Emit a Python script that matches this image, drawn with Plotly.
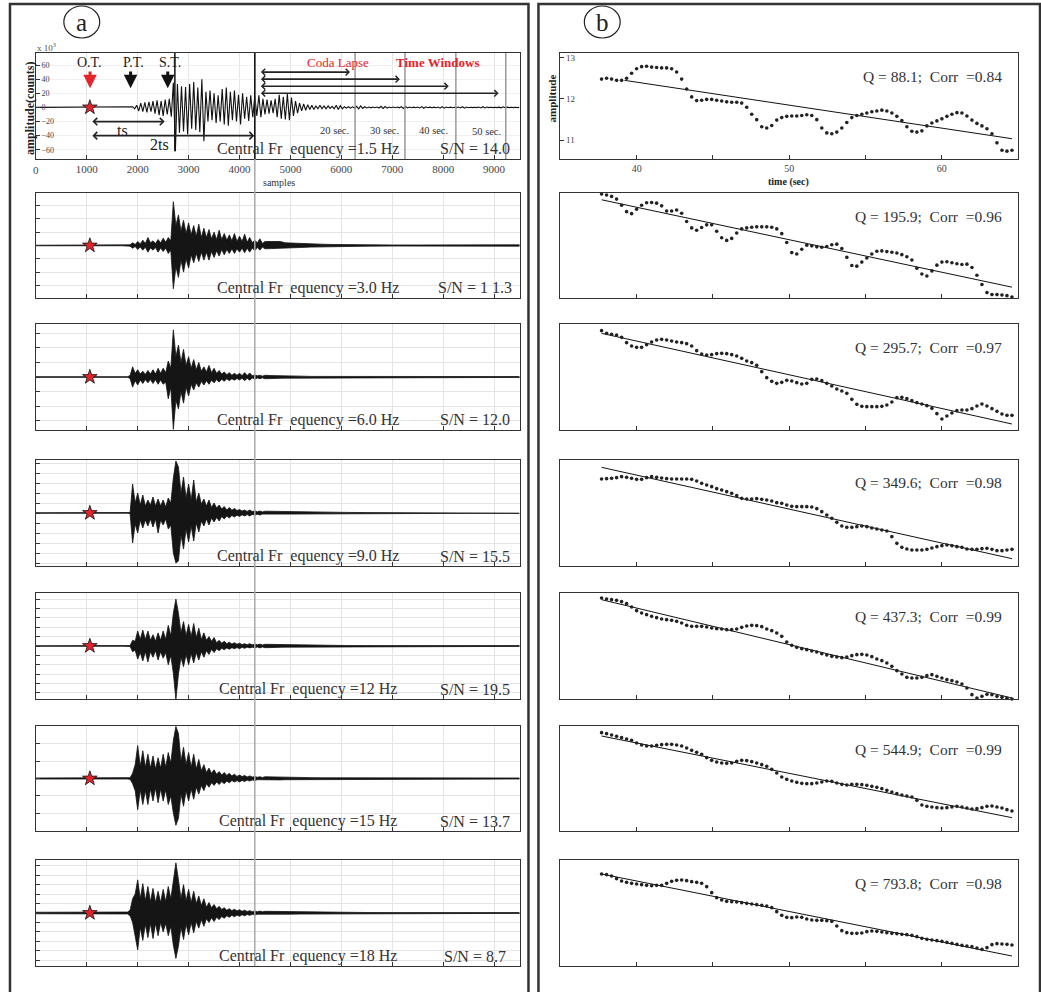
import numpy as np
import plotly.graph_objects as go

W, H = 1041, 992
SERIF = "Liberation Serif"

# ---------------- panel (a): band-passed seismograms ----------------
FREQ_LABELS = ["1.5", "3.0", "6.0", "9.0", "12", "15", "18"]
SN_LABELS = ["14.0", "1 1.3", "12.0", "15.5", "19.5", "13.7", "8.7"]

# 1.5 Hz trace: successive extrema (x10^3 counts), one every 40 samples from sample 1900
TRACE15_START = 1900
TRACE15_STEP = 40
TRACE15 = [
    1, -2, 3, -5, 6, -6, 7, -7, 8, -6, 9, -9, 10, -11, 9, -12, 11, -10, 12, -13,
    35, -62, 33, -36, 30, -34, 29, -38, 33, -30, 36, -32, 28, -35, 40, -48,
    22, -20, 24, -18, 20, -22, 17, -20, 26, -24, 28, -26, 22, -18, 24, -20, 18, -24,
    20, -16, 15, -19, 17, -14, 16, -12, 17, -14, 12, -10, 11, -9, 10, -8,
    12, -14, 18, -16, 15, -17, 19, -18, 14, -12, 9, -8, 6, -5, 5, -4, 4, -3, 3, -3,
    2, -2, 3, -2, 2, -2, 2, -1.5, 1.5, -2, 3, -3, 2.5, -2, 1, -1, 1, -1, 0.8, -0.8,
    1.5, -2, 2, -1.5, 1, -0.8, 0.6, -0.6, 0.5, -0.5, 0.6, -0.8, 1.5, -1.5, 1.2, -1,
    0.6, -0.5, 0.5, -0.5, 0.5, -0.6, 1.2, -1.5, 1.2, -0.8, 0.5, -0.4, 0.4, -0.4,
    0.5, -0.8, 1.2, -1.2, 0.8, -0.5, 0.4, -0.4, 0.4, -0.4, 0.6, -1, 1.2, -1, 0.6, -0.4,
    0.4, -0.4, 0.3, -0.3, 0.5, -0.8, 1, -1, 0.6, -0.4, 0.3, -0.3, 0.3, -0.3,
    0.5, -0.8, 1, -0.8, 0.5, -0.3, 0.3, -0.3, 0.3, -0.3, 0.4, -0.6, 0.8, -0.6, 0.4,
    -0.3, 0.3, -0.3, 0.3, -0.3, 0.3,
]

# envelope sample grid (higher bands): pre-event, dense 1900-4500, coda tail
ENV_SAMPLES = ([0, 1700, 1800, 1850] + list(range(1900, 4501, 50)) +
               [4600, 4700, 4800, 4900, 5000, 5200, 5400, 5600, 5800, 6100, 6500,
                7000, 7500, 8000, 8500, 9000, 9500])

# upper / lower envelope magnitudes (grid units): pre | P coda | S and coda | tail
ENV_UP = {
    "3.0": [0.02, 0.02, 0.03, 0.05]
    + [0.2, 0.08, 0.3, 0.12, 0.4, 0.15, 0.6, 0.2, 0.35, 0.15, 0.45, 0.2, 0.55, 0.25, 0.6, 0.35]
    + [3.3, 1.5, 2.3, 1.1, 1.9, 0.9, 1.7, 0.8, 1.5, 0.7, 1.6, 0.6, 1.3, 0.6, 1.2, 0.5, 1.0,
       0.45, 1.15, 0.45, 0.9, 0.4, 0.8, 0.35, 0.9, 0.3, 0.7, 0.3, 0.85, 0.25, 0.6, 0.22, 0.4,
       0.2, 0.5, 0.15, 0.3]
    + [0.3, 0.25, 0.3, 0.2, 0.18, 0.15, 0.12, 0.1, 0.08, 0.06, 0.05, 0.04, 0.04, 0.03, 0.03,
       0.04, 0.05],
    "6.0": [0.02, 0.02, 0.02, 0.1]
    + [0.7, 0.25, 0.5, 0.2, 0.4, 0.18, 0.45, 0.2, 0.5, 0.2, 0.6, 0.25, 0.6, 0.3, 1.1, 0.6]
    + [3.25, 1.4, 2.2, 1.0, 1.9, 0.8, 1.4, 0.6, 1.2, 0.5, 1.0, 0.4, 0.7, 0.35, 0.8, 0.3, 0.6,
       0.25, 0.45, 0.2, 0.35, 0.15, 0.3, 0.12, 0.25, 0.12, 0.25, 0.1, 0.3, 0.1, 0.28, 0.08,
       0.15, 0.08, 0.12, 0.06, 0.12]
    + [0.1, 0.1, 0.09, 0.08, 0.07, 0.06, 0.04, 0.04, 0.03, 0.03, 0.03, 0.03, 0.03, 0.03, 0.03,
       0.03, 0.03],
    "9.0": [0.02, 0.02, 0.02, 0.05]
    + [2.9, 1.0, 2.0, 0.8, 1.8, 0.7, 1.3, 0.8, 1.6, 0.7, 1.4, 0.7, 1.3, 0.6, 1.5, 1.0]
    + [3.5, 5.2, 4.6, 2.0, 3.6, 1.5, 2.9, 1.3, 3.3, 1.1, 2.0, 0.9, 1.4, 0.7, 1.3, 0.55, 1.0,
       0.5, 0.8, 0.4, 0.65, 0.3, 0.55, 0.28, 0.45, 0.25, 0.35, 0.2, 0.3, 0.16, 0.3, 0.14,
       0.22, 0.12, 0.2, 0.11, 0.18]
    + [0.17, 0.15, 0.14, 0.12, 0.11, 0.1, 0.1, 0.09, 0.08, 0.06, 0.04, 0.03, 0.03, 0.03,
       0.03, 0.03, 0.03],
    "12": [0.02, 0.02, 0.02, 0.05]
    + [0.6, 0.5, 1.6, 0.7, 1.7, 0.7, 1.6, 0.6, 1.2, 0.5, 1.4, 0.6, 1.6, 0.7, 2.2, 1.1]
    + [3.5, 5.0, 3.5, 1.4, 2.6, 1.1, 2.3, 1.0, 2.4, 0.9, 1.9, 0.7, 1.4, 0.6, 1.0, 0.5, 0.9,
       0.35, 0.6, 0.3, 0.5, 0.25, 0.4, 0.2, 0.35, 0.18, 0.3, 0.15, 0.25, 0.13, 0.25, 0.12,
       0.2, 0.12, 0.2, 0.1, 0.18]
    + [0.17, 0.15, 0.14, 0.12, 0.11, 0.1, 0.09, 0.08, 0.06, 0.05, 0.04, 0.04, 0.04, 0.04,
       0.04, 0.04, 0.04],
    "15": [0.03, 0.03, 0.03, 0.05]
    + [0.3, 0.8, 1.9, 0.7, 1.6, 0.65, 1.4, 0.6, 1.3, 0.55, 1.2, 0.6, 1.4, 0.65, 1.5, 0.9]
    + [2.2, 3.0, 2.6, 1.0, 1.8, 0.8, 1.5, 0.65, 1.4, 0.55, 1.1, 0.45, 0.8, 0.35, 0.6, 0.3,
       0.5, 0.25, 0.4, 0.2, 0.35, 0.18, 0.3, 0.15, 0.25, 0.12, 0.2, 0.11, 0.18, 0.09, 0.15,
       0.08, 0.12, 0.07, 0.1, 0.06, 0.1]
    + [0.09, 0.08, 0.08, 0.07, 0.06, 0.06, 0.05, 0.04, 0.04, 0.03, 0.03, 0.03, 0.03, 0.03,
       0.03, 0.03, 0.03],
    "18": [0.08, 0.1, 0.1, 0.3]
    + [1.5, 2.0, 3.5, 1.5, 3.1, 1.3, 2.8, 1.2, 2.6, 1.1, 2.3, 1.1, 2.5, 1.2, 2.8, 1.5]
    + [3.5, 5.3, 3.5, 1.5, 3.0, 1.3, 2.5, 1.1, 2.3, 1.0, 1.8, 0.8, 1.5, 0.6, 1.1, 0.55, 0.9,
       0.45, 0.7, 0.38, 0.55, 0.3, 0.45, 0.25, 0.4, 0.22, 0.35, 0.18, 0.3, 0.16, 0.25, 0.14,
       0.22, 0.13, 0.2, 0.12, 0.18]
    + [0.17, 0.15, 0.14, 0.13, 0.12, 0.11, 0.1, 0.1, 0.08, 0.06, 0.05, 0.04, 0.04, 0.04,
       0.04, 0.04, 0.04],
}
ENV_DOWN = {
    "3.0": [0.02, 0.02, 0.03, 0.05]
    + [0.2, 0.08, 0.3, 0.12, 0.35, 0.12, 0.5, 0.18, 0.35, 0.15, 0.5, 0.18, 0.45, 0.2, 0.6, 0.35]
    + [3.25, 1.6, 2.4, 1.1, 2.0, 1.0, 1.7, 0.7, 1.3, 0.6, 1.2, 0.5, 1.1, 0.5, 1.1, 0.45, 0.9,
       0.4, 0.8, 0.3, 0.7, 0.3, 0.6, 0.25, 0.6, 0.25, 0.5, 0.2, 0.55, 0.2, 0.5, 0.18, 0.4,
       0.15, 0.35, 0.12, 0.25]
    + [0.25, 0.25, 0.25, 0.2, 0.18, 0.15, 0.12, 0.1, 0.08, 0.06, 0.05, 0.04, 0.04, 0.03,
       0.03, 0.04, 0.05],
    "6.0": [0.02, 0.02, 0.02, 0.1]
    + [0.7, 0.25, 0.55, 0.2, 0.45, 0.18, 0.4, 0.18, 0.45, 0.18, 0.5, 0.2, 0.5, 0.35, 1.5, 0.7]
    + [3.6, 1.6, 2.2, 1.0, 1.8, 0.7, 1.3, 0.5, 0.9, 0.4, 0.7, 0.3, 0.55, 0.25, 0.5, 0.22,
       0.4, 0.18, 0.35, 0.15, 0.3, 0.12, 0.25, 0.12, 0.22, 0.1, 0.2, 0.09, 0.25, 0.09, 0.22,
       0.07, 0.15, 0.07, 0.12, 0.06, 0.12]
    + [0.1, 0.1, 0.09, 0.08, 0.07, 0.06, 0.04, 0.04, 0.03, 0.03, 0.03, 0.03, 0.03, 0.03, 0.03,
       0.03, 0.03],
    "9.0": [0.02, 0.02, 0.02, 0.05]
    + [3.0, 1.1, 2.0, 0.7, 1.5, 0.7, 1.3, 0.6, 1.4, 0.6, 2.0, 0.7, 1.2, 0.6, 1.6, 1.2]
    + [4.0, 5.0, 4.8, 2.2, 3.6, 1.6, 2.9, 1.3, 2.8, 1.0, 1.9, 0.8, 1.3, 0.6, 1.2, 0.5, 0.9,
       0.45, 0.8, 0.35, 0.6, 0.3, 0.5, 0.25, 0.4, 0.22, 0.35, 0.18, 0.3, 0.16, 0.3, 0.14,
       0.22, 0.12, 0.2, 0.11, 0.18]
    + [0.17, 0.15, 0.14, 0.12, 0.11, 0.1, 0.1, 0.09, 0.08, 0.06, 0.04, 0.03, 0.03, 0.03,
       0.03, 0.03, 0.03],
    "12": [0.02, 0.02, 0.02, 0.05]
    + [0.6, 0.45, 1.4, 0.7, 1.6, 0.6, 1.7, 0.6, 1.2, 0.5, 1.5, 0.6, 1.3, 0.7, 2.0, 1.0]
    + [2.9, 5.7, 3.0, 1.2, 2.2, 0.9, 2.0, 0.8, 1.8, 0.7, 1.5, 0.6, 1.2, 0.5, 0.9, 0.35, 0.7,
       0.3, 0.5, 0.25, 0.4, 0.2, 0.35, 0.18, 0.3, 0.16, 0.3, 0.13, 0.25, 0.12, 0.2, 0.12,
       0.2, 0.1, 0.2, 0.1, 0.18]
    + [0.17, 0.15, 0.14, 0.12, 0.11, 0.1, 0.09, 0.08, 0.06, 0.05, 0.04, 0.04, 0.04, 0.04,
       0.04, 0.04, 0.04],
    "15": [0.03, 0.03, 0.03, 0.05]
    + [0.3, 0.7, 1.8, 0.65, 1.5, 0.7, 1.5, 0.6, 1.3, 0.55, 1.4, 0.6, 1.3, 0.65, 1.5, 1.0]
    + [2.0, 2.7, 2.3, 0.9, 1.6, 0.7, 1.3, 0.6, 1.2, 0.5, 0.9, 0.4, 0.7, 0.3, 0.5, 0.25, 0.4,
       0.2, 0.35, 0.18, 0.3, 0.15, 0.25, 0.12, 0.2, 0.12, 0.2, 0.11, 0.18, 0.09, 0.15, 0.08,
       0.12, 0.07, 0.1, 0.06, 0.1]
    + [0.09, 0.08, 0.08, 0.07, 0.06, 0.06, 0.05, 0.04, 0.04, 0.03, 0.03, 0.03, 0.03, 0.03,
       0.03, 0.03, 0.03],
    "18": [0.08, 0.1, 0.1, 0.3]
    + [1.0, 2.2, 3.9, 1.5, 2.9, 1.2, 2.6, 1.1, 2.7, 1.1, 2.4, 1.0, 2.0, 1.1, 2.4, 1.4]
    + [3.4, 4.8, 3.5, 1.5, 2.8, 1.2, 2.3, 1.0, 2.1, 0.9, 1.6, 0.7, 1.4, 0.6, 1.0, 0.5, 0.9,
       0.45, 0.7, 0.38, 0.55, 0.3, 0.45, 0.25, 0.4, 0.22, 0.35, 0.18, 0.3, 0.16, 0.25, 0.14,
       0.22, 0.13, 0.2, 0.12, 0.18]
    + [0.17, 0.15, 0.14, 0.13, 0.12, 0.11, 0.1, 0.1, 0.08, 0.06, 0.05, 0.04, 0.04, 0.04,
       0.04, 0.04, 0.04],
}
ORIGIN_SAMPLE = 1060

# ---------------- panel (b): coda decay fits ----------------
Q_VALUES = [88.1, 195.9, 295.7, 349.6, 437.3, 544.9, 793.8]
CORR_VALUES = [0.84, 0.96, 0.97, 0.98, 0.99, 0.99, 0.98]
CODA_TIME = np.linspace(37.7, 64.6, 83)
CODA_AMP = [
    [12.48, 12.50, 12.48, 12.45, 12.45, 12.50, 12.62, 12.73, 12.78, 12.79, 12.77, 12.76, 12.75,
     12.75, 12.73, 12.65, 12.48, 12.24, 12.05, 11.96, 11.97, 11.99, 11.99, 11.97, 11.95, 11.93,
     11.92, 11.92, 11.90, 11.80, 11.63, 11.50, 11.33, 11.30, 11.36, 11.49, 11.55, 11.58, 11.59,
     11.59, 11.60, 11.62, 11.60, 11.50, 11.30, 11.18, 11.16, 11.20, 11.30, 11.43, 11.55, 11.60,
     11.63, 11.66, 11.69, 11.71, 11.73, 11.71, 11.66, 11.58, 11.48, 11.33, 11.22, 11.20, 11.23,
     11.35, 11.42, 11.47, 11.52, 11.58, 11.63, 11.67, 11.66, 11.59, 11.49, 11.41, 11.35, 11.28,
     11.16, 10.94, 10.76, 10.74, 10.76],
    [11.97, 11.94, 11.90, 11.82, 11.64, 11.45, 11.39, 11.52, 11.64, 11.71, 11.72, 11.70, 11.62,
     11.47, 11.47, 11.50, 11.40, 11.16, 10.97, 10.90, 10.98, 11.06, 11.06, 10.87, 10.68, 10.60,
     10.66, 10.82, 10.94, 10.97, 10.99, 11.00, 11.00, 11.00, 10.99, 10.94, 10.80, 10.54, 10.24,
     10.20, 10.34, 10.46, 10.44, 10.41, 10.40, 10.42, 10.47, 10.49, 10.36, 10.10, 9.86, 9.84,
     9.96, 10.08, 10.20, 10.28, 10.29, 10.27, 10.25, 10.23, 10.18, 10.12, 10.02, 9.78, 9.61,
     9.55, 9.70, 9.87, 9.96, 9.97, 9.94, 9.91, 9.89, 9.90, 9.80, 9.57, 9.30, 9.06, 9.00, 9.00,
     8.99, 8.97, 8.93],
    [11.80, 11.72, 11.69, 11.67, 11.60, 11.44, 11.34, 11.30, 11.30, 11.38, 11.46, 11.52, 11.54,
     11.52, 11.49, 11.46, 11.44, 11.41, 11.34, 11.20, 11.10, 11.07, 11.08, 11.11, 11.12, 11.11,
     11.08, 11.04, 10.97, 10.89, 10.84, 10.76, 10.57, 10.39, 10.28, 10.22, 10.25, 10.31, 10.29,
     10.24, 10.20, 10.22, 10.34, 10.35, 10.30, 10.22, 10.14, 10.05, 9.99, 9.92, 9.74, 9.59,
     9.53, 9.52, 9.52, 9.52, 9.53, 9.57, 9.66, 9.79, 9.80, 9.76, 9.70, 9.64, 9.60, 9.55, 9.47,
     9.31, 9.15, 9.24, 9.33, 9.40, 9.42, 9.42, 9.46, 9.54, 9.60, 9.54, 9.46, 9.38, 9.30, 9.26,
     9.26],
    [11.43, 11.44, 11.45, 11.47, 11.50, 11.48, 11.45, 11.42, 11.42, 11.47, 11.50, 11.48, 11.46,
     11.44, 11.43, 11.43, 11.43, 11.43, 11.42, 11.37, 11.30, 11.25, 11.20, 11.14, 11.10, 11.05,
     11.00, 10.93, 10.85, 10.83, 10.83, 10.84, 10.82, 10.80, 10.77, 10.72, 10.70, 10.65, 10.61,
     10.60, 10.60, 10.60, 10.59, 10.54, 10.45, 10.35, 10.25, 10.13, 10.02, 9.98, 9.98, 10.00,
     10.02, 10.00, 9.96, 9.93, 9.90, 9.87, 9.70, 9.50, 9.38, 9.33, 9.30, 9.30, 9.30, 9.32, 9.36,
     9.40, 9.43, 9.45, 9.43, 9.40, 9.38, 9.33, 9.32, 9.32, 9.34, 9.35, 9.32, 9.28, 9.28, 9.30,
     9.32],
    [11.85, 11.82, 11.80, 11.78, 11.74, 11.68, 11.58, 11.47, 11.40, 11.35, 11.30, 11.26, 11.22,
     11.20, 11.18, 11.15, 11.10, 11.03, 11.00, 11.00, 11.00, 10.98, 10.95, 10.93, 10.92, 10.90,
     10.90, 10.92, 10.97, 11.01, 11.03, 11.02, 10.99, 10.92, 10.87, 10.80, 10.70, 10.53, 10.43,
     10.37, 10.33, 10.30, 10.26, 10.23, 10.18, 10.14, 10.10, 10.08, 10.06, 10.08, 10.12, 10.15,
     10.16, 10.14, 10.09, 10.02, 9.97, 9.90, 9.80, 9.67, 9.57, 9.47, 9.45, 9.45, 9.47, 9.52,
     9.55, 9.50, 9.45, 9.40, 9.37, 9.33, 9.27, 9.15, 8.95, 8.85, 8.90, 8.96, 8.95, 8.90, 8.87,
     8.84, 8.82],
    [11.80, 11.77, 11.73, 11.69, 11.65, 11.61, 11.57, 11.49, 11.43, 11.40, 11.40, 11.42, 11.44,
     11.45, 11.45, 11.43, 11.40, 11.34, 11.27, 11.21, 11.15, 11.05, 10.97, 10.92, 10.89, 10.88,
     10.89, 10.94, 10.97, 10.96, 10.93, 10.89, 10.84, 10.79, 10.70, 10.59, 10.47, 10.40, 10.35,
     10.31, 10.28, 10.27, 10.27, 10.29, 10.32, 10.35, 10.34, 10.29, 10.25, 10.23, 10.25, 10.25,
     10.24, 10.22, 10.19, 10.16, 10.12, 10.07, 10.02, 9.97, 9.93, 9.90, 9.87, 9.77, 9.63, 9.59,
     9.57, 9.55, 9.54, 9.55, 9.57, 9.59, 9.57, 9.54, 9.51, 9.52, 9.55, 9.59, 9.60, 9.57, 9.54,
     9.49, 9.45],
    [11.58, 11.56, 11.52, 11.44, 11.37, 11.33, 11.30, 11.28, 11.26, 11.24, 11.23, 11.24, 11.24,
     11.30, 11.36, 11.39, 11.40, 11.38, 11.35, 11.33, 11.30, 11.20, 11.02, 10.87, 10.80, 10.76,
     10.75, 10.74, 10.72, 10.70, 10.68, 10.66, 10.64, 10.62, 10.57, 10.45, 10.34, 10.28, 10.27,
     10.29, 10.28, 10.23, 10.20, 10.19, 10.19, 10.18, 10.16, 10.02, 9.88, 9.82, 9.80, 9.80,
     9.81, 9.85, 9.87, 9.86, 9.84, 9.82, 9.80, 9.79, 9.77, 9.76, 9.74, 9.70, 9.65, 9.62, 9.60,
     9.58, 9.56, 9.53, 9.50, 9.47, 9.44, 9.42, 9.40, 9.36, 9.32, 9.37, 9.46, 9.49, 9.48, 9.47,
     9.45],
]
FIT_TIME = [[39.2, 64.6]] + [[37.7, 64.6]] * 6
FIT_AMP = [[12.45, 11.04], [11.80, 9.22], [11.72, 9.00], [11.78, 9.04],
           [11.80, 8.85], [11.70, 9.25], [11.58, 9.12]]
TOP_YTICKS = [11, 12, 13]

# ---------------- layout geometry (pixels) ----------------
PANEL_TOP = [53, 193, 324, 460, 593, 726, 860]
PANEL_BOT = [159, 298, 430, 566, 699, 831, 966]
LEFT_X = (33, 518)
RIGHT_X = (559, 1018)
LEFT_YLIM = [None, 3.95, 3.65, 5.3, 5.65, 3.03, 5.6]
RIGHT_YRANGE = [[10.55, 13.11], [8.90, 12.0], [8.82, 12.0], [8.82, 12.0],
                [8.82, 12.0], [8.85, 12.0], [8.82, 12.0]]


def px(x):
    return x / W


def py(y):
    return 1 - y / H


fig = go.Figure()
layout = dict(width=W, height=H, margin=dict(l=0, r=0, t=0, b=0),
              paper_bgcolor="white", plot_bgcolor="white", showlegend=False,
              font=dict(family=SERIF, color="#222"))

AX_LINE = dict(showline=True, mirror=True, linecolor="#333", linewidth=1.2,
               zeroline=False, ticks="inside", ticklen=4, tickcolor="#333")

for i in range(7):
    xa = "xaxis" if i == 0 else f"xaxis{i + 1}"
    ya = "yaxis" if i == 0 else f"yaxis{i + 1}"
    layout[xa] = dict(AX_LINE, domain=[px(LEFT_X[0]), px(LEFT_X[1])],
                      anchor=f"y{i + 1}" if i else "y", range=[0, 9500],
                      tickvals=list(range(0, 10000, 1000)), showgrid=True,
                      gridcolor="#e4e4e4", gridwidth=1,
                      showticklabels=(i == 0), tickfont=dict(size=11, color="#444"))
    if i == 0:
        layout[ya] = dict(AX_LINE, domain=[py(PANEL_BOT[i]), py(PANEL_TOP[i])],
                          anchor="x", range=[-73, 77], tickvals=[-60, -40, -20, 0, 20, 40, 60],
                          ticklabelposition="inside", tickfont=dict(size=8, color="#444"),
                          showgrid=True, gridcolor="#f0f0f0")
    else:
        lim = LEFT_YLIM[i]
        layout[ya] = dict(AX_LINE, domain=[py(PANEL_BOT[i]), py(PANEL_TOP[i])],
                          anchor=f"x{i + 1}", range=[-lim, lim], dtick=1,
                          showticklabels=False, showgrid=True, gridcolor="#e4e4e4")
    j = i + 8
    layout[f"xaxis{j}"] = dict(AX_LINE, domain=[px(RIGHT_X[0]), px(RIGHT_X[1])],
                               anchor=f"y{j}", range=[35, 65],
                               tickvals=[40, 45, 50, 55, 60],
                               ticktext=["40", "", "50", "", "60"],
                               showticklabels=(i == 0), showgrid=False,
                               tickfont=dict(size=10, color="#444"))
    yd = dict(AX_LINE, domain=[py(PANEL_BOT[i]), py(PANEL_TOP[i])],
              anchor=f"x{j}", range=RIGHT_YRANGE[i], showgrid=False)
    if i == 0:
        yd.update(tickvals=TOP_YTICKS, showticklabels=False)
    else:
        yd.update(showticklabels=False, ticks="")
    layout[f"yaxis{j}"] = yd

# ---- traces: left ----
x15 = [0] + [TRACE15_START + TRACE15_STEP * k for k in range(len(TRACE15))]
fig.add_trace(go.Scatter(x=x15, y=[0] + TRACE15, mode="lines",
                         line=dict(color="#111", width=1.1), xaxis="x", yaxis="y"))
for i, f in enumerate(FREQ_LABELS):
    xr = "x" if i == 0 else f"x{i + 1}"
    yr = "y" if i == 0 else f"y{i + 1}"
    if i > 0:
        up = ENV_UP[f]
        dn = [-v for v in ENV_DOWN[f]]
        n = min(len(ENV_SAMPLES), len(up), len(dn))
        xs = ENV_SAMPLES[:n] + ENV_SAMPLES[:n][::-1]
        ys = up[:n] + dn[:n][::-1]
        fig.add_trace(go.Scatter(x=xs, y=ys, mode="lines", fill="toself",
                                 fillcolor="#151515", line=dict(color="#151515", width=0.8),
                                 xaxis=xr, yaxis=yr))
    fig.add_trace(go.Scatter(x=[ORIGIN_SAMPLE], y=[0], mode="markers",
                             marker=dict(symbol="star", size=11, color="#e3242b",
                                         line=dict(color="#111", width=0.8)),
                             xaxis=xr, yaxis=yr))

# ---- traces: right ----
for i in range(7):
    j = i + 8
    fig.add_trace(go.Scatter(x=FIT_TIME[i], y=FIT_AMP[i], mode="lines",
                             line=dict(color="#111", width=1), xaxis=f"x{j}", yaxis=f"y{j}"))
    fig.add_trace(go.Scatter(x=CODA_TIME, y=CODA_AMP[i], mode="markers",
                             marker=dict(size=3.6, color="#222"), cliponaxis=False,
                             xaxis=f"x{j}", yaxis=f"y{j}"))

# ---- shapes ----
shapes = []
shapes.append(dict(type="rect", xref="paper", yref="paper", x0=px(7), x1=px(527),
                   y0=-0.05, y1=py(4), line=dict(color="#333", width=2.5)))
shapes.append(dict(type="rect", xref="paper", yref="paper", x0=px(537), x1=px(1040),
                   y0=-0.05, y1=py(4), line=dict(color="#333", width=2.5)))
shapes.append(dict(type="circle", xref="paper", yref="paper", x0=px(61), x1=px(97),
                   y0=py(38), y1=py(6), line=dict(color="#222", width=1.2)))
shapes.append(dict(type="circle", xref="paper", yref="paper", x0=px(583), x1=px(619),
                   y0=py(38), y1=py(6), line=dict(color="#222", width=1.2)))
shapes.append(dict(type="line", xref="x", yref="paper", x0=4300, x1=4300,
                   y0=py(966), y1=py(53), line=dict(color="#aaa", width=1.5)))
for s in [6270, 7250, 8250, 9230]:
    shapes.append(dict(type="line", xref="x", yref="y", x0=s, x1=s, y0=-73, y1=77,
                       line=dict(color="#999", width=1.5)))
shapes.append(dict(type="line", xref="x", yref="y", x0=4300, x1=4300, y0=-73, y1=77,
                   line=dict(color="#111", width=1.5)))
shapes.append(dict(type="line", xref="x", yref="y", x0=2730, x1=2730, y0=-62, y1=77,
                   line=dict(color="#111", width=1.5)))
layout["shapes"] = shapes

# ---- annotations ----
ann = []


def txt(x, y, t, size, xref="paper", yref="paper", color="#222", **kw):
    d = dict(x=x, y=y, text=t, xref=xref, yref=yref, showarrow=False,
             xanchor="center", yanchor="middle",
             font=dict(family=SERIF, size=size, color=color))
    d.update(kw)
    ann.append(d)


txt(px(79), py(22), "a", 25)
txt(px(601), py(22), "b", 25)

for s, lab, col, tx in [(1064, "O.T.", "#e3242b", 1058), (1860, "P.T.", "#111", 1920),
                        (2590, "S.T.", "#111", 2625)]:
    txt(tx, 64, lab, 14, xref="x", yref="y")
    ann.append(dict(x=s, y=27, ax=s, ay=53, xref="x", yref="y", axref="x", ayref="y",
                    text="", showarrow=True, arrowhead=2, arrowsize=0.9, arrowwidth=3,
                    arrowcolor=col))

for s0, s1, lev in [(1080, 2530, -20), (1080, 4290, -40)]:
    ann.append(dict(x=s1, y=lev, ax=s0, ay=lev, xref="x", yref="y", axref="x", ayref="y",
                    text="", showarrow=True, arrowside="end+start", arrowhead=4,
                    startarrowhead=4, arrowsize=0.8, startarrowsize=0.8, arrowwidth=1.8,
                    arrowcolor="#222"))
txt(1700, -32, "ts", 16, xref="x", yref="y")
txt(2430, -53, "2ts", 16, xref="x", yref="y")

for s1, lev in [(6170, 50), (7150, 40), (8110, 30), (9090, 20)]:
    ann.append(dict(x=s1, y=lev, ax=4390, ay=lev, xref="x", yref="y", axref="x", ayref="y",
                    text="", showarrow=True, arrowside="end+start", arrowhead=4,
                    startarrowhead=4, arrowsize=0.8, startarrowsize=0.8, arrowwidth=1.6,
                    arrowcolor="#222"))
for s, lab, lev in [(5860, "20 sec.", -32), (6840, "30 sec.", -32), (7820, "40 sec.", -32),
                    (8860, "50 sec.", -34)]:
    txt(s, lev, lab, 10.5, xref="x", yref="y", color="#333")
txt(5940, 63, "Coda Lapse", 13, xref="x", yref="y", color="#e3242b")
txt(7880, 63, "<b>Time Windows</b>", 13, xref="x", yref="y", color="#e3242b")

txt(px(44), py(47), "x 10<sup>3</sup>", 9, color="#555")
txt(px(27), py(108), "<b>amplitude(counts)</b>", 12, textangle=-90)
txt(px(277), py(182), "samples", 10, color="#333")
txt(0, py(170), "0", 11, xref="x", color="#444")

for i in range(7):
    yb = PANEL_BOT[i] - 10
    txt(px(306), py(yb), f"Central Fr\u00a0 equency ={FREQ_LABELS[i]} Hz", 16, color="#333")
    txt(px(473), py(yb), f"S/N = {SN_LABELS[i]}", 16, color="#333")
    txt(px(1004), py(PANEL_TOP[i] + 23),
        f"Q = {Q_VALUES[i]};\u00a0 Corr\u00a0 ={CORR_VALUES[i]:.2f}", 15.5, color="#333",
        xanchor="right")

for v in TOP_YTICKS:
    txt(35.25, v, str(v), 9, xref="x8", yref="y8", color="#444", xanchor="left")
txt(px(551), py(98), "<b>amplitude</b>", 11, textangle=-90)
txt(px(788), py(182), "<b>time (sec)</b>", 10)

layout["annotations"] = ann
fig.update_layout(**layout)
fig.write_html("out.html", config={"displayModeBar": False},
               post_script="document.body.style.margin='0';"
                           "document.body.style.overflow='hidden';")
